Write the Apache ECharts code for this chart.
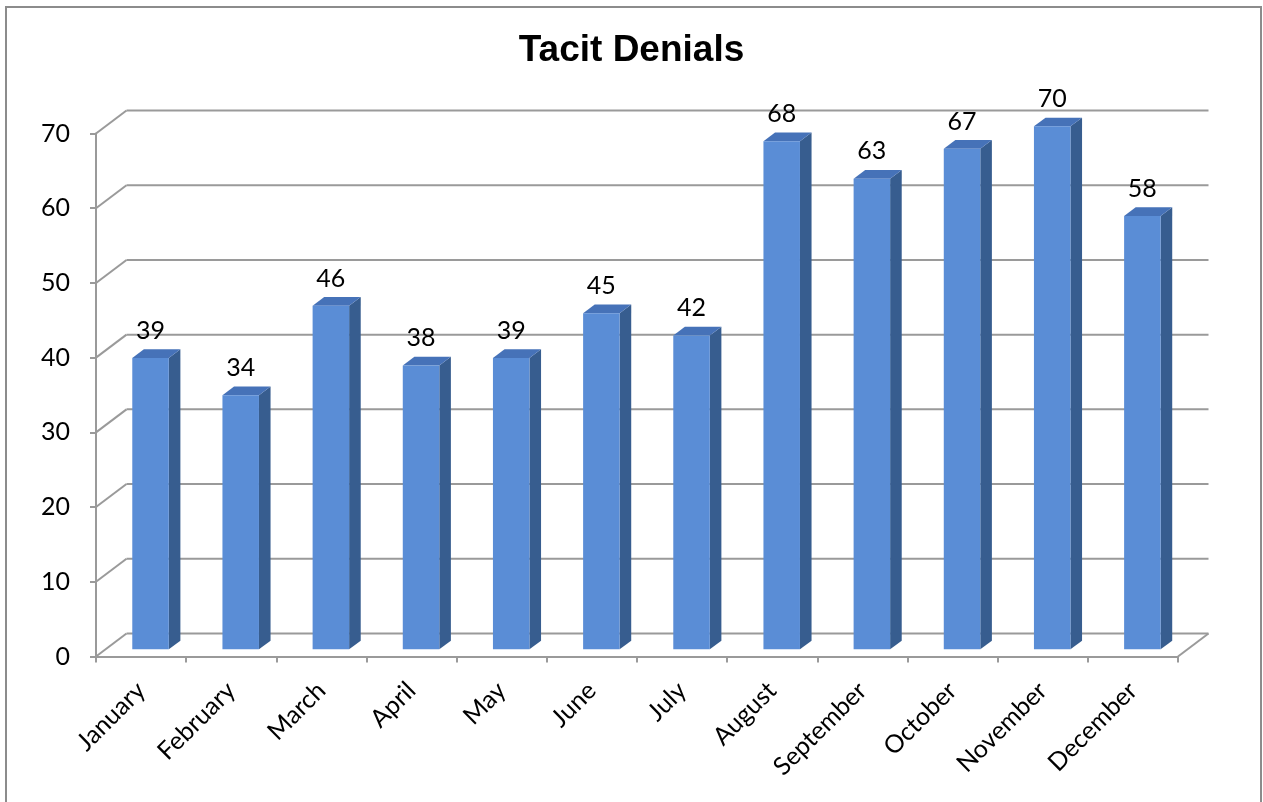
<!DOCTYPE html>
<html>
<head>
<meta charset="utf-8">
<title>Tacit Denials</title>
<script src="https://cdn.jsdelivr.net/npm/echarts@6/dist/echarts.min.js"></script>
<style>
  html, body { margin: 0; padding: 0; background: #ffffff; }
  #chart { width: 1263px; height: 802px; }
</style>
</head>
<body>
<div id="chart"></div>
<script>
// Monthly counts of tacit denials
const months = ['January', 'February', 'March', 'April', 'May', 'June',
                'July', 'August', 'September', 'October', 'November', 'December'];
const denials = [39, 34, 46, 38, 39, 45, 42, 68, 63, 67, 70, 58];
const yTicks = [0, 10, 20, 30, 40, 50, 60, 70];

// Pseudo-3D geometry: offset of the back wall relative to the front plane,
// and the slice of the floor depth occupied by each column.
const DEPTH_X = 30.5;
const DEPTH_Y = -23;
const BAR_FRONT = 0.31;
const BAR_BACK = 0.69;
const BAR_WIDTH = 0.405;

const GRID_COLOR = '#9a9a9a';
const FACE_FRONT = '#5a8dd6';
const FACE_TOP = '#4672b8';
const FACE_SIDE = '#375d8f';
const LABEL_FONT = 'Lato, "Open Sans", sans-serif';
const LABEL_SIZE = 25;

const chart = echarts.init(document.getElementById('chart'), null, { renderer: 'canvas' });

// Back wall gridlines with the diagonal connectors on the left and the floor edge on the right
const wallSeries = {
  type: 'custom',
  silent: true,
  z: 1,
  data: yTicks.map(v => [0, v]),
  renderItem: function (params, api) {
    const v = api.value(1);
    const cs = params.coordSys;
    const y = api.coord([0, v])[1];
    const x0 = cs.x;
    const x1 = cs.x + cs.width;
    const style = { stroke: GRID_COLOR, lineWidth: 2, fill: null };
    const children = [
      { type: 'line', shape: { x1: x0, y1: y, x2: x0 + DEPTH_X, y2: y + DEPTH_Y }, style: style },
      { type: 'line', shape: { x1: x0 + DEPTH_X, y1: y + DEPTH_Y, x2: x1 + DEPTH_X, y2: y + DEPTH_Y }, style: style }
    ];
    if (v === 0) {
      children.push({ type: 'line', shape: { x1: x1, y1: y, x2: x1 + DEPTH_X, y2: y + DEPTH_Y }, style: style });
    }
    return { type: 'group', children: children };
  }
};

// Columns: front face, darker right side, top face and value label
const barSeries = {
  type: 'custom',
  z: 2,
  data: denials.map((v, i) => [i, v]),
  renderItem: function (params, api) {
    const i = api.value(0);
    const v = api.value(1);
    const base = api.coord([i, 0]);
    const top = api.coord([i, v]);
    const bw = api.size([1, 0])[0] * BAR_WIDTH;
    const fx = BAR_FRONT * DEPTH_X;
    const fy = BAR_FRONT * DEPTH_Y;
    const ddx = (BAR_BACK - BAR_FRONT) * DEPTH_X;
    const ddy = (BAR_BACK - BAR_FRONT) * DEPTH_Y;
    const xl = base[0] + fx - bw / 2;
    const xr = xl + bw;
    const yb = base[1] + fy;
    const yt = top[1] + fy;
    return {
      type: 'group',
      children: [
        { type: 'polygon', shape: { points: [[xr, yb], [xr + ddx, yb + ddy], [xr + ddx, yt + ddy], [xr, yt]] },
          style: { fill: FACE_SIDE } },
        { type: 'polygon', shape: { points: [[xl, yt], [xr, yt], [xr + ddx, yt + ddy], [xl + ddx, yt + ddy]] },
          style: { fill: FACE_TOP } },
        { type: 'rect', shape: { x: xl, y: yt, width: bw, height: yb - yt },
          style: { fill: FACE_FRONT } },
        { type: 'text', x: xl + bw / 2, y: yt + ddy - 6,
          style: { text: String(v), align: 'center', verticalAlign: 'bottom',
                   fontFamily: LABEL_FONT, fontSize: LABEL_SIZE, fill: '#000000' } }
      ]
    };
  }
};

const option = {
  animation: false,
  backgroundColor: '#ffffff',
  title: {
    text: 'Tacit Denials',
    left: 'center',
    top: 27,
    textStyle: { fontFamily: '"Liberation Sans", Arial, sans-serif', fontWeight: 'bold', fontSize: 37, color: '#000000' }
  },
  grid: { left: 96, top: 133.5, width: 1082, height: 523 },
  xAxis: {
    type: 'category',
    data: months,
    boundaryGap: true,
    axisLine: { show: true, lineStyle: { color: GRID_COLOR, width: 2 } },
    axisTick: { show: true, length: 6, lineStyle: { color: GRID_COLOR, width: 2 } },
    axisLabel: { rotate: 45, margin: 30, interval: 0, fontFamily: LABEL_FONT, fontSize: LABEL_SIZE, color: '#000000' },
    splitLine: { show: false }
  },
  yAxis: {
    type: 'value',
    min: 0,
    max: 70,
    interval: 10,
    axisLine: { show: true, lineStyle: { color: GRID_COLOR, width: 2 } },
    axisTick: { show: true, length: 6, lineStyle: { color: GRID_COLOR, width: 2 } },
    axisLabel: { margin: 26, fontFamily: LABEL_FONT, fontSize: LABEL_SIZE, color: '#000000' },
    splitLine: { show: false }
  },
  graphic: [
    { type: 'rect', silent: true, z: 0,
      shape: { x: 6, y: 7, width: 1255, height: 830 },
      style: { fill: null, stroke: '#8c8c8c', lineWidth: 2 } }
  ],
  series: [wallSeries, barSeries]
};

chart.setOption(option);
</script>
</body>
</html>
